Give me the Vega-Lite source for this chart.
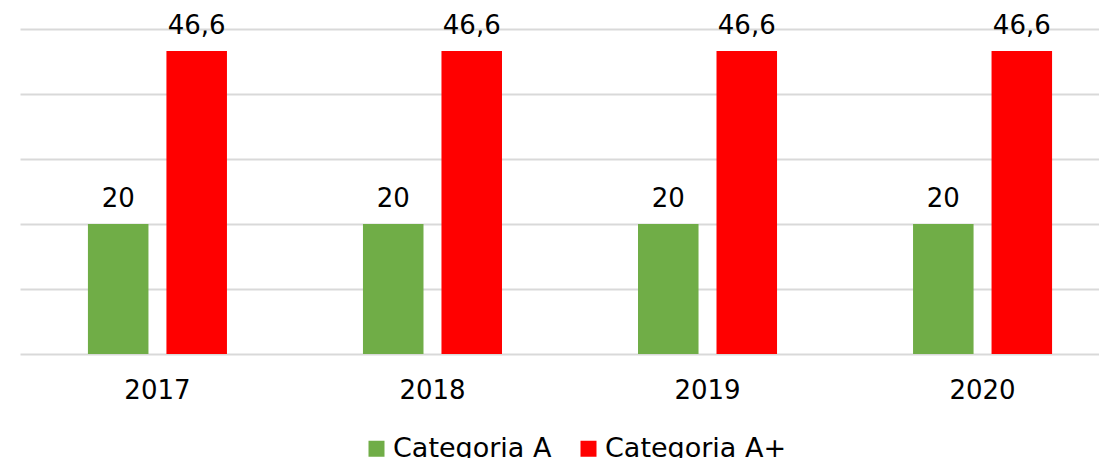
{
  "$schema": "https://vega.github.io/schema/vega-lite/v6.json",
  "width": 1079,
  "height": 325,
  "autosize": {"type": "none"},
  "padding": {"left": 20, "top": 29, "right": 0, "bottom": 104},
  "config": {
    "view": {"stroke": null},
    "font": "DejaVu Sans",
    "locale": {"number": {"decimal": ",", "thousands": ".", "grouping": [3], "currency": ["", " €"]}}
  },
  "data": {
    "values": [
      {"year": "2017", "category": "Categoria A", "value": 20},
      {"year": "2017", "category": "Categoria A+", "value": 46.6},
      {"year": "2018", "category": "Categoria A", "value": 20},
      {"year": "2018", "category": "Categoria A+", "value": 46.6},
      {"year": "2019", "category": "Categoria A", "value": 20},
      {"year": "2019", "category": "Categoria A+", "value": 46.6},
      {"year": "2020", "category": "Categoria A", "value": 20},
      {"year": "2020", "category": "Categoria A+", "value": 46.6}
    ]
  },
  "encoding": {
    "x": {
      "field": "year",
      "type": "nominal",
      "scale": {"range": [0, 1100], "paddingInner": 0.4945, "paddingOuter": 0.247},
      "axis": {
        "title": null,
        "labelAngle": 0,
        "ticks": false,
        "domain": false,
        "labelFontSize": 26,
        "labelColor": "#000000",
        "labelPadding": 23
      }
    },
    "xOffset": {
      "field": "category",
      "type": "nominal",
      "sort": ["Categoria A", "Categoria A+"],
      "scale": {"paddingInner": 0.229, "paddingOuter": 0}
    },
    "y": {
      "field": "value",
      "type": "quantitative",
      "scale": {"domain": [0, 50], "nice": false},
      "axis": {
        "title": null,
        "labels": false,
        "ticks": false,
        "domain": false,
        "values": [0, 10, 20, 30, 40, 50],
        "gridColor": "#D9D9D9",
        "gridWidth": 2
      }
    }
  },
  "layer": [
    {
      "mark": {"type": "bar"},
      "encoding": {
        "color": {
          "field": "category",
          "type": "nominal",
          "scale": {"domain": ["Categoria A", "Categoria A+"], "range": ["#70AD47", "#FF0000"]},
          "legend": {
            "orient": "none",
            "direction": "horizontal",
            "legendX": 343,
            "legendY": 406,
            "title": null,
            "symbolType": "square",
            "symbolSize": 256,
            "symbolStrokeWidth": 0,
            "labelFontSize": 27,
            "labelLimit": 400,
            "labelColor": "#000000",
            "labelOffset": 3,
            "columnPadding": 23
          }
        }
      }
    },
    {
      "mark": {"type": "text", "baseline": "alphabetic", "dy": -17, "fontSize": 26, "color": "#000000"},
      "encoding": {
        "text": {"field": "value", "type": "quantitative", "format": ".1~f"}
      }
    }
  ]
}
